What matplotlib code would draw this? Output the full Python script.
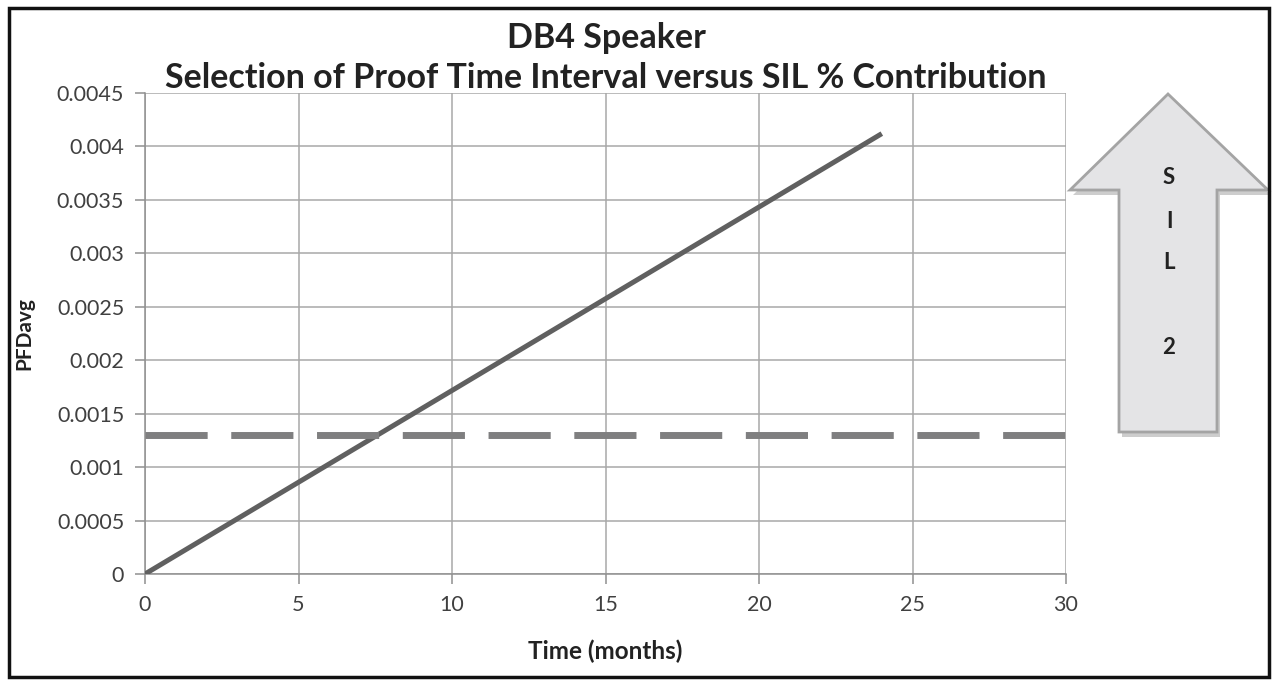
import matplotlib
matplotlib.use("Agg")
import matplotlib.pyplot as plt
from matplotlib.patches import Polygon, Rectangle

plt.rcParams['font.family'] = ['Lato', 'DejaVu Sans']

# data
time_months = [0, 24]
pfd_avg = [0.0, 0.00412]
sil_limit_x = [0, 30]
sil_limit_y = [0.0013, 0.0013]
x_ticks = [0, 5, 10, 15, 20, 25, 30]
y_ticks = [0, 0.0005, 0.001, 0.0015, 0.002, 0.0025, 0.003, 0.0035, 0.004, 0.0045]
y_labels = ['0', '0.0005', '0.001', '0.0015', '0.002', '0.0025', '0.003', '0.0035', '0.004', '0.0045']
arrow_letters = ['S', 'I', 'L', '2']

W, H = 1277, 685
fig = plt.figure(figsize=(W / 100, H / 100), dpi=100)
ax = fig.add_axes([145 / W, 1 - 574 / H, (1066 - 145) / W, (574 - 93) / H])

ax.plot(time_months, pfd_avg, color='#606060', lw=3.6, solid_capstyle='butt', zorder=3)
ax.plot(sil_limit_x, sil_limit_y, color='#7f7f80', lw=5, dashes=(8.95, 3.4),
        dash_capstyle='butt', zorder=3)

ax.set_xlim(0, 30)
ax.set_ylim(0, 0.0045)
ax.set_xticks(x_ticks)
ax.set_yticks(y_ticks)
ax.set_yticklabels(y_labels)
ax.grid(True, color='#a8a8a8', lw=1.1)
for s in ['top', 'right']:
    ax.spines[s].set_visible(False)
for s in ['left', 'bottom']:
    ax.spines[s].set_color('#909090')
    ax.spines[s].set_linewidth(1.1)
ax.tick_params(direction='out', length=7, width=1.1, color='#909090',
               labelsize=15.5, labelcolor='#404040', pad=8)

ax.set_xlabel('Time (months)', fontsize=17.5, fontweight='bold', color='#222222')
ax.set_ylabel('PFDavg', fontsize=15, fontweight='bold', color='#222222')
ax.xaxis.set_label_coords(0.5, -0.137)
ax.yaxis.set_label_coords(-0.12, 0.5)

fig.text(606 / W, 1 - 38 / H, 'DB4 Speaker', ha='center', va='center',
         fontsize=24.5, fontweight='bold', color='#222222')
fig.text(606 / W, 1 - 78 / H, 'Selection of Proof Time Interval versus SIL % Contribution',
         ha='center', va='center', fontsize=24.5, fontweight='bold', color='#222222')

# block arrow on the right
def fp(x, y):
    return (x / W, 1 - y / H)

pts = [(1168, 94), (1268, 190), (1217, 190), (1217, 432), (1119, 432), (1119, 190), (1070, 190)]
shadow = Polygon([fp(x + 3, y + 5) for x, y in pts], closed=True, transform=fig.transFigure,
                 facecolor='#b8b8b8', edgecolor='none', alpha=0.7)
arrow = Polygon([fp(x, y) for x, y in pts], closed=True, transform=fig.transFigure,
                facecolor='#e4e4e6', edgecolor='#a4a4a4', lw=2)
fig.patches.extend([shadow, arrow])
for letter, y in zip(arrow_letters, [178, 222, 262, 347]):
    fig.text(1169 / W, 1 - y / H, letter, ha='center', va='center',
             fontsize=16, fontweight='bold', color='#222222')

# outer frame
fig.patches.append(Rectangle(fp(9, 677), (1269 - 9) / W, (677 - 8) / H, transform=fig.transFigure,
                             fill=False, edgecolor='#111111', lw=2.5))

fig.savefig('out.png', dpi=100)
